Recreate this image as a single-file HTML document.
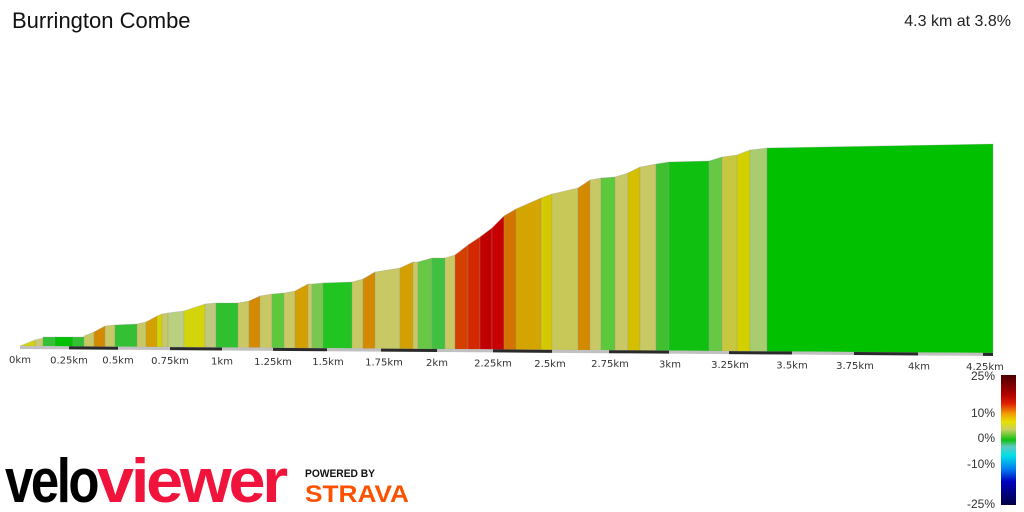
<!DOCTYPE html>
<html><head><meta charset="utf-8"><style>
html,body{margin:0;padding:0;background:#fff;width:1024px;height:512px;overflow:hidden;font-family:"Liberation Sans",sans-serif}
</style></head><body>
<svg id="s" width="1024" height="512" xmlns="http://www.w3.org/2000/svg">
<defs><linearGradient id="cb" x1="0" y1="0" x2="0" y2="1">
<stop offset="0" stop-color="#4a0000"/><stop offset="0.15" stop-color="#b00000"/><stop offset="0.22" stop-color="#e02000"/><stop offset="0.3" stop-color="#f0a000"/><stop offset="0.36" stop-color="#e8e000"/><stop offset="0.42" stop-color="#c8d060"/><stop offset="0.5" stop-color="#10c010"/><stop offset="0.55" stop-color="#60c8c0"/><stop offset="0.62" stop-color="#00e0e8"/><stop offset="0.72" stop-color="#0080f0"/><stop offset="0.82" stop-color="#0000c0"/><stop offset="1" stop-color="#000040"/>
</linearGradient></defs>
<text x="12" y="28" font-size="22" fill="#111">Burrington Combe</text>
<text x="1011" y="26" font-size="16" fill="#222" text-anchor="end">4.3 km at 3.8%</text>
<g id="prof"></g>
<rect x="1001" y="375" width="15" height="130" fill="url(#cb)"/>
<g font-size="12" fill="#333" text-anchor="end">
<text x="995" y="380">25%</text><text x="995" y="417">10%</text><text x="995" y="442">0%</text><text x="995" y="468">-10%</text><text x="995" y="508">-25%</text></g>
<text x="5" y="502" font-size="62" font-weight="bold" fill="#000" textLength="92" lengthAdjust="spacingAndGlyphs" letter-spacing="-3">velo</text>
<text x="97" y="502" font-size="62" font-weight="bold" fill="#f0143c" textLength="188" lengthAdjust="spacingAndGlyphs" letter-spacing="-3">viewer</text>
<text x="305" y="477" font-size="11" font-weight="bold" fill="#111" textLength="70" lengthAdjust="spacingAndGlyphs">POWERED BY</text>
<text x="305" y="502" font-size="24" font-weight="bold" fill="#fc5200" textLength="104" lengthAdjust="spacingAndGlyphs">STRAVA</text>
</svg>
<script>
var d=[[20,35,346,340,"#d4d40a"],[35,43,340,338,"#c8c870"],[43,55,337,337,"#33c033"],[55,73,337,337,"#00c000"],[73,84,337,337,"#33c033"],[84,94,336,332,"#c8c864"],[94,105,332,326,"#d48a00"],[105,115,326,325,"#c8c864"],[115,137,325,324,"#33c033"],[137,146,324,322,"#c8c864"],[146,157,322,316,"#d4a000"],[157,162,316,314,"#d4d400"],[162,168,314,313,"#c8c864"],[168,184,313,311,"#b8d080"],[184,205,311,304,"#d4d40a"],[205,216,304,303,"#c0c880"],[216,238,303,303,"#2ec02e"],[238,249,303,301,"#c8c864"],[249,260,301,296,"#d48a00"],[260,272,296,294,"#c8c864"],[272,284,294,293,"#5cc83c"],[284,295,293,291,"#c8c864"],[295,308,291,284,"#d4a000"],[308,312,284,284,"#c8c864"],[312,323,284,283,"#78c850"],[323,352,283,282,"#22c422"],[352,363,282,279,"#c8c864"],[363,375,279,272,"#d48a00"],[375,400,272,268,"#c8c864"],[400,413,268,262,"#d4a000"],[413,418,262,262,"#c8c864"],[418,432,262,258,"#66c844"],[432,445,258,258,"#40c040"],[445,455,258,255,"#c8c864"],[455,468,255,245,"#d44000"],[468,480,245,237,"#d42800"],[480,492,237,228,"#c00000"],[492,504,228,216,"#c80000"],[504,516,216,209,"#d47400"],[516,541,209,198,"#d4a400"],[541,552,198,194,"#d4c800"],[552,578,194,188,"#c8c858"],[578,590,188,180,"#d48a00"],[590,601,180,178,"#c8c864"],[601,615,178,177,"#5cc83c"],[615,628,177,173,"#c8c864"],[628,640,173,167,"#d4c000"],[640,656,167,164,"#c8c864"],[656,669,164,162,"#40c030"],[669,709,162,161,"#10c010"],[709,722,161,157,"#66c844"],[722,737,157,155,"#c8c840"],[737,750,155,150,"#d4d000"],[750,767,150,148,"#a8cc70"],[767,993,148,144,"#00c000"]];
function b(x){return 346+(x-20)*7/973;}
var h="";
d.forEach(function(s){h+='<polygon points="'+s[0]+','+s[2]+' '+s[1]+','+s[3]+' '+s[1]+','+b(s[1])+' '+s[0]+','+b(s[0])+'" fill="'+s[4]+'" stroke="#999" stroke-opacity="0.35" stroke-width="0.8"/>';});
var t=[20,69,118,170,222,273,327,381,437,493,552,609,669,729,792,854,918,983,993];
for(var i=0;i<t.length-1;i++){var a=t[i],c=t[i+1];h+='<polygon points="'+a+','+b(a)+' '+c+','+b(c)+' '+c+','+(b(c)+3)+' '+a+','+(b(a)+3)+'" fill="'+(i%2?"#2a2a2a":"#c0c0c0")+'"/>';}
var L=[[20,"0km"],[69,"0.25km"],[118,"0.5km"],[170,"0.75km"],[222,"1km"],[273,"1.25km"],[328,"1.5km"],[384,"1.75km"],[437,"2km"],[493,"2.25km"],[550,"2.5km"],[610,"2.75km"],[670,"3km"],[730,"3.25km"],[792,"3.5km"],[855,"3.75km"],[919,"4km"],[985,"4.25km"]];
L.forEach(function(l){h+='<text x="'+l[0]+'" y="'+(b(l[0])+17)+'" font-size="10" font-family="DejaVu Sans" fill="#333" text-anchor="middle">'+l[1]+'</text>';});
document.getElementById("prof").innerHTML=h;
</script>
</body></html>
